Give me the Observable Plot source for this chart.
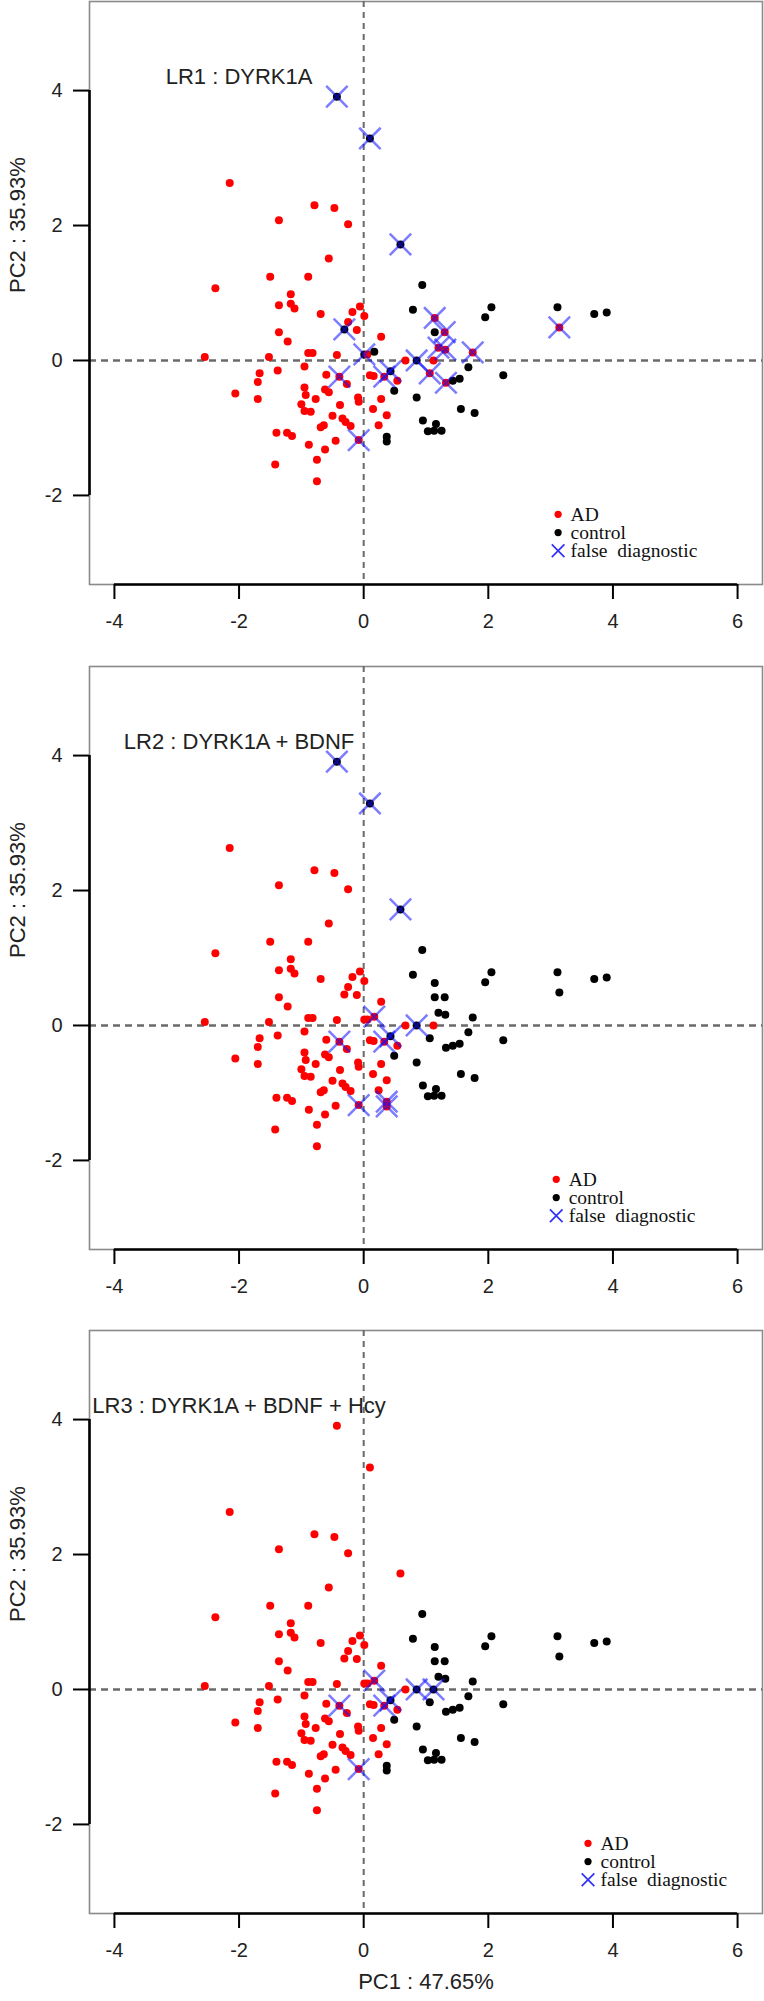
<!DOCTYPE html>
<html><head><meta charset="utf-8">
<script src="https://cdn.jsdelivr.net/npm/d3@7"></script>
<script src="https://cdn.jsdelivr.net/npm/@observablehq/plot@0.6"></script>
<style>body{margin:0;background:#fff}#chart svg{display:block}</style>
</head><body><div id="chart"></div>
<script>
// PCA coordinates of each subject
const pc1 = [-0.43,0.10,0.59,-2.15,-0.79,-0.47,-1.36,-0.25,-0.56,-1.50,-0.89,-2.38,-1.17,-1.36,-1.17,-1.11,-0.69,-1.36,-1.22,-0.89,
  -0.82,-2.55,-1.52,-0.43,-0.95,-1.38,-1.67,-0.60,-1.70,-0.06,-0.18,0.01,-0.25,-0.31,-0.11,0.28,0.01,0.06,0.67,-0.27,
  0.10,0.16,0.54,-2.06,-1.70,-0.95,-0.93,-0.62,-0.56,-0.77,-1.00,-0.95,-0.85,-0.38,-0.50,-0.09,-0.08,0.28,0.15,0.37,
  -0.34,-0.29,-0.21,0.24,-0.69,-0.64,-1.40,-1.23,-1.15,-0.88,-0.45,-0.62,-0.75,-1.42,-0.75,0.85,1.12,0.43,
  0.17,-0.39,0.33,-0.08,0.94,0.79,1.14,1.95,2.05,3.11,3.14,3.70,3.90,1.14,1.30,1.20,1.31,1.75,1.68,2.24,1.06,0.49,
  1.32,1.43,1.54,0.85,1.56,1.78,0.95,1.16,1.03,1.13,1.25,0.37,0.37];
const pc2 = [3.91,3.29,1.72,2.63,2.30,2.26,2.08,2.02,1.51,1.24,1.24,1.07,0.98,0.82,0.84,0.77,0.69,0.42,0.28,0.11,
  0.11,0.05,0.05,0.08,-0.09,-0.15,-0.19,-0.21,-0.32,0.80,0.72,0.66,0.57,0.46,0.45,0.35,0.09,0.09,0.00,-0.35,
  -0.22,-0.23,-0.30,-0.49,-0.57,-0.40,-0.51,-0.43,-0.47,-0.57,-0.65,-0.75,-0.76,-0.66,-0.82,-0.55,-0.61,-0.57,-0.72,-0.81,
  -0.86,-0.91,-0.97,-0.96,-0.99,-0.96,-1.07,-1.07,-1.12,-1.25,-1.19,-1.32,-1.47,-1.54,-1.79,0.00,0.00,-0.16,
  0.13,-0.24,-0.24,-1.18,1.12,0.75,0.63,0.64,0.79,0.79,0.49,0.69,0.71,0.42,0.42,0.19,0.16,0.12,-0.10,-0.22,-0.19,-0.45,
  -0.33,-0.30,-0.27,-0.55,-0.72,-0.78,-0.89,-0.94,-1.05,-1.04,-1.04,-1.13,-1.20];
// true diagnosis: first 78 subjects AD, the rest control
const nAD = 78;
const diagnosis = pc1.map((_, i) => i < nAD ? "AD" : "control");
const models = ["LR1 : DYRK1A", "LR2 : DYRK1A + BDNF", "LR3 : DYRK1A + BDNF + Hcy"];
// indices of misclassified subjects for each model
const falseLR1 = [0,1,2,33,36,75,77,79,80,81,84,88,92,93,94,95,98,100];
const falseLR2 = [0,1,2,75,77,78,79,80,81,111,112];
const falseLR3 = [75,76,77,78,79,80,81];
const xTicks = [-4,-2,0,2,4,6];
const yTicks = [-2,0,2,4];
const xLabel = "PC1 : 47.65%";
const yLabel = "PC2 : 35.93%";
const legendLabels = ["AD", "control", "false  diagnostic"];
const legendX = [3.12, 3.09, 3.6];

const falseSets = [falseLR1, falseLR2, falseLR3];
const heights = [665, 664, 672];
const XD = [-4.4, 6.4], YD = [-3.32, 5.32];
const sans = "'Liberation Sans', Arial, Helvetica, sans-serif";
const serif = "'Liberation Serif', 'Times New Roman', serif";
const fmt = d => String(d);

function panel(k) {
  const fs = new Set(falseSets[k]);
  const pts = pc1.map((x, i) => {
    const wrong = fs.has(i);
    const pred = wrong ? (diagnosis[i] === "AD" ? "control" : "AD") : diagnosis[i];
    return {x, y: pc2[i], pred, wrong};
  });
  const H = heights[k];
  const lx = legendX[k], ly = -2.28, step = 0.27;
  const marks = [
    Plot.frame({stroke: "#8a8a8a", strokeWidth: 1.6}),
    Plot.ruleX([0], {stroke: "#6a6a6a", strokeWidth: 2, strokeDasharray: "6,5"}),
    Plot.ruleY([0], {stroke: "#6a6a6a", strokeWidth: 2.6, strokeDasharray: "7,5"}),
    Plot.axisX(xTicks, {tickSize: 15, tickPadding: 14, tickFormat: fmt, stroke: "black", strokeWidth: 2, label: null, fill: "#222", fontSize: 20}),
    Plot.ruleY([YD[0]], {x1: -4, x2: 6, stroke: "black", strokeWidth: 2.6}),
    Plot.axisY(yTicks, {tickSize: 16, tickPadding: 11, tickFormat: fmt, stroke: "black", strokeWidth: 2, label: null, fill: "#222", fontSize: 20}),
    Plot.ruleX([XD[0]], {y1: -2, y2: 4, stroke: "black", strokeWidth: 2.6}),
    Plot.dot(pts, {x: "x", y: "y", r: 4, fill: d => d.pred === "AD" ? "#f00" : "#000", stroke: "none"}),
    Plot.dot(pts.filter(d => d.wrong), {x: "x", y: "y", symbol: "times", r: 9.8, stroke: "#1010ff", strokeOpacity: 0.55, strokeWidth: 2.5}),
    Plot.text([models[k]], {x: -2, y: 4.2, fontSize: 22, fill: "#222", fontFamily: sans}),
    Plot.dot([0], {x: () => lx, y: () => ly, r: 3.6, fill: "#f00"}),
    Plot.dot([0], {x: () => lx, y: () => ly - step, r: 3.6, fill: "#000"}),
    Plot.dot([0], {x: () => lx, y: () => ly - 2 * step, symbol: "times", r: 5.8, stroke: "#3030ff", strokeWidth: 1.7}),
    Plot.text(legendLabels, {x: () => lx + 0.2, y: (d, i) => ly - i * step, textAnchor: "start", fontFamily: serif, fontSize: 19.5, fill: "#111"}),
    Plot.text([yLabel], {frameAnchor: "left", rotate: -90, dx: -72, fontSize: 22, fill: "#222", fontFamily: sans})
  ];
  if (k === 2) {
    marks.push(Plot.text([xLabel], {frameAnchor: "bottom", dy: 75, fontSize: 22, fill: "#222", fontFamily: sans}));
  }
  return Plot.plot({
    width: 764, height: H,
    marginTop: 1, marginLeft: 89, marginRight: 2, marginBottom: H - 584,
    x: {domain: XD},
    y: {domain: YD},
    style: {fontFamily: sans, fontSize: "20px", background: "#fff", overflow: "visible"},
    marks
  });
}
const root = document.getElementById("chart");
for (let k = 0; k < 3; k++) root.appendChild(panel(k));
</script></body></html>
